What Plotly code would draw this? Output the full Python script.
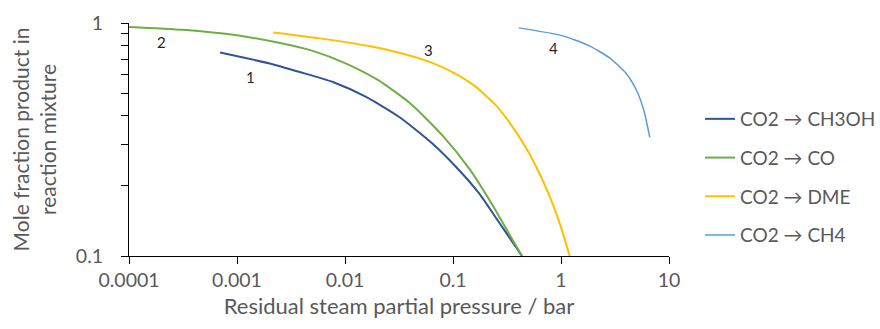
import plotly.graph_objects as go
import numpy as np

# Data (x: residual steam partial pressure / bar, y: mole fraction)
ch3oh_x = [6.97e-4, 2.01e-3, 3.81e-3, 7.73e-3, 0.01567, 0.0318, 0.0644, 0.1135, 0.1738, 0.2655, 0.4355]
ch3oh_y = [0.747, 0.670, 0.616, 0.558, 0.482, 0.395, 0.304, 0.234, 0.186, 0.140, 0.100]

co_x = [1.0e-4, 3.16e-4, 1.0e-3, 2.51e-3, 5.01e-3, 0.01, 0.01995, 0.0398, 0.0794, 0.1413,
        0.2239, 0.3162, 0.4355]
co_y = [0.962, 0.935, 0.885, 0.820, 0.759, 0.673, 0.571, 0.454, 0.330, 0.237,
        0.170, 0.129, 0.100]

dme_x = [2.16e-3, 5.82e-3, 0.01567, 0.0318, 0.0631, 0.1, 0.1585, 0.2512, 0.3548, 0.5012,
         0.631, 0.794, 1.0, 1.202]
dme_y = [0.910, 0.859, 0.800, 0.745, 0.676, 0.614, 0.537, 0.442, 0.359, 0.279,
         0.226, 0.178, 0.133, 0.100]

ch4_x = [0.405, 1.0, 1.778, 2.818, 3.981, 5.012, 5.888, 6.637]
ch4_y = [0.953, 0.885, 0.804, 0.708, 0.610, 0.513, 0.417, 0.323]

series_names = ["CO2 → CH3OH", "CO2 → CO", "CO2 → DME", "CO2 → CH4"]
curve_labels = ["1", "2", "3", "4"]
label_x = [1.32e-3, 2.02e-4, 0.0591, 0.853]
label_y = [0.587, 0.829, 0.769, 0.781]

x_tickvals = [1e-4, 1e-3, 1e-2, 1e-1, 1, 10]
x_ticktext = ["0.0001", "0.001", "0.01", "0.1", "1", "10"]
y_tickvals = [0.1, 1]
y_ticktext = ["0.1", "1"]
y_minor = [0.2, 0.3, 0.4, 0.5, 0.6, 0.7, 0.8, 0.9]

colors = ["#2F5597", "#70AD47", "#FFC000", "#5B9BD5"]
widths = [2, 2, 2, 1.5]
FONT = "Lato"
GRAY = "#595959"

fig = go.Figure()
for i, (xs, ys, name, c, w) in enumerate(zip([ch3oh_x, co_x, dme_x, ch4_x],
                                             [ch3oh_y, co_y, dme_y, ch4_y],
                                             series_names, colors, widths)):
    fig.add_trace(go.Scatter(x=xs, y=ys, mode="lines", name=name, legendgroup=f"g{i}",
                             line=dict(color=c, width=w, shape="spline", smoothing=0.6)))

for t, lx, ly in zip(curve_labels, label_x, label_y):
    fig.add_annotation(x=np.log10(lx), y=np.log10(ly), text=t, showarrow=False,
                       font=dict(family=FONT, size=15, color="#262626"))

y_all = y_tickvals[:1] + y_minor + y_tickvals[1:]
y_all_text = y_ticktext[:1] + [""] * len(y_minor) + y_ticktext[1:]

fig.update_layout(
    template="none",
    width=880, height=329,
    margin=dict(l=129, r=211, t=23, b=73, autoexpand=False),
    paper_bgcolor="white", plot_bgcolor="white",
    font=dict(family=FONT, size=19, color=GRAY),
    showlegend=True,
    legend=dict(x=(700 - 129) / 540, y=(256 - 177) / 233, xanchor="left", yanchor="middle",
                font=dict(family=FONT, size=19, color=GRAY),
                tracegroupgap=11, itemwidth=30, borderwidth=0, bgcolor="rgba(0,0,0,0)"),
)
fig.update_xaxes(type="log", range=[-4, 1], tickvals=x_tickvals, ticktext=x_ticktext,
                 ticks="outside", ticklen=7, tickcolor="black", tickwidth=1, showline=True,
                 linecolor="black", linewidth=1, showgrid=False, zeroline=False,
                 automargin=False, tickfont=dict(size=19.5, color=GRAY),
                 title=dict(text="Residual steam partial pressure / bar",
                            font=dict(size=22, color=GRAY), standoff=8))
fig.update_yaxes(type="log", range=[-1, 0], tickvals=y_all, ticktext=y_all_text,
                 ticks="outside", ticklen=7, tickcolor="black", tickwidth=1, showline=True,
                 linecolor="black", linewidth=1, showgrid=False, zeroline=False,
                 automargin=False, tickfont=dict(size=19.5, color=GRAY), ticklabelstandoff=14,
                 title=dict(text="Mole fraction product in<br>reaction mixture",
                            font=dict(size=21, color=GRAY), standoff=13))

fig.write_html("out.html", config={"displayModeBar": False},
               post_script="document.body.style.margin='0';document.body.style.overflow='hidden';")
